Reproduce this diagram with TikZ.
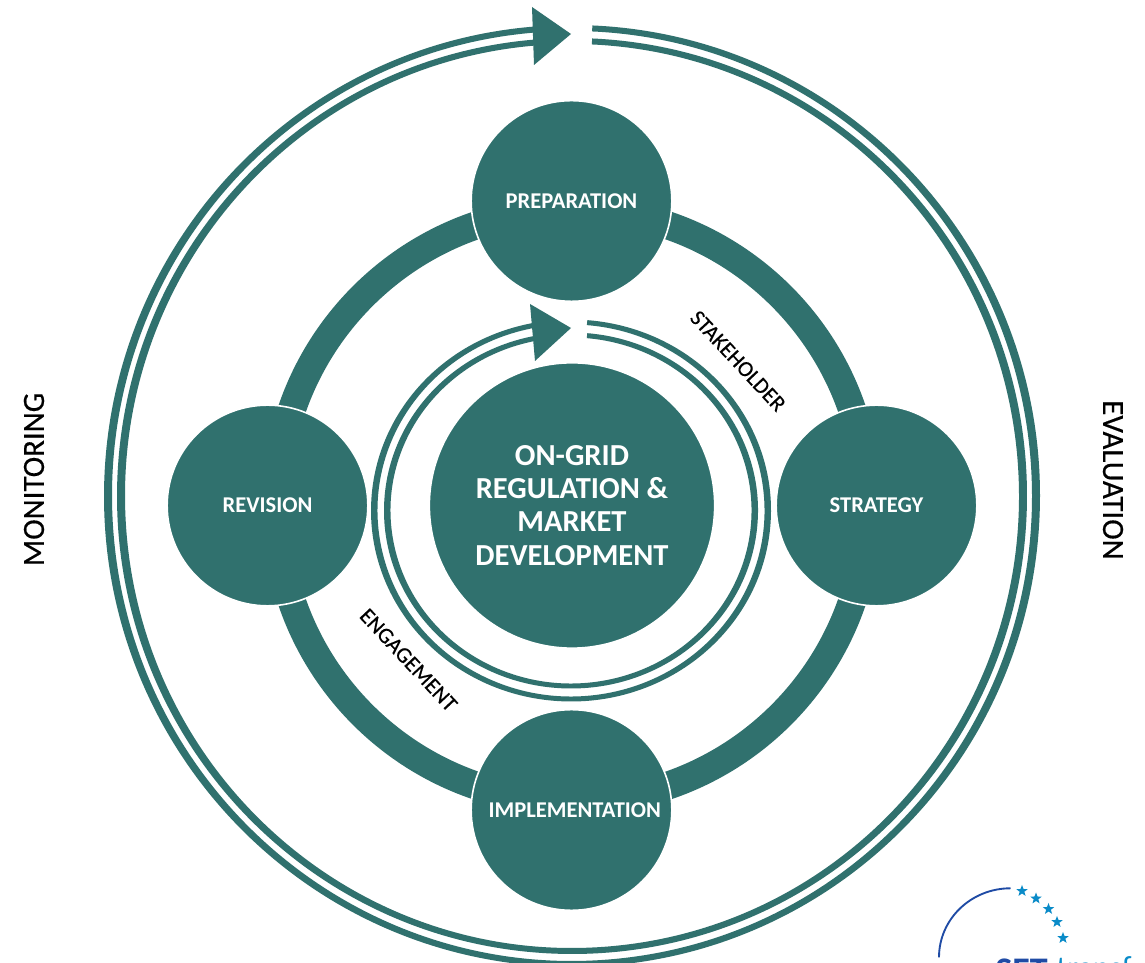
\documentclass[tikz,border=0pt]{standalone}
\usepackage{fontspec}
\setmainfont{Carlito}
\newfontfamily\medfont[FakeBold=0.35]{Carlito}
\usetikzlibrary{calc,shapes.geometric}
\definecolor{teal1}{HTML}{30716E}
\definecolor{logoblue}{HTML}{1F4BA5}
\definecolor{starblue}{HTML}{0A8BC8}
\tikzset{
  x=0.75pt,y=0.75pt,
  disc/.style={circle,fill=teal1,draw=white,line width=1.2pt,inner sep=0pt,text=white,font=\fontsize{16.9pt}{18pt}\selectfont\bfseries,align=center},
  small/.style={disc,minimum size=150.5pt},
  band/.style={draw=teal1,line width=21pt},
  strand/.style={fill=teal1},
  head/.style={fill=teal1},
  sidelabel/.style={font=\fontsize{23.2pt}{26pt}\selectfont\medfont,text=black,inner sep=0pt},
  arclabel/.style={font=\fontsize{16.6pt}{19pt}\selectfont\medfont,text=black,inner sep=0pt},
  logostar/.style={star,star points=5,star point ratio=2.4,fill=starblue,inner sep=0pt,minimum size=9pt},
}
\newcommand{\ringstrand}[8]{% cx cy start end rxOut ryOut rxIn ryIn
  \fill[strand] ($(#1,#2)+(#3:#5 and #6)$) arc[start angle=#3,end angle=#4,x radius=#5,y radius=#6]
    -- ($(#1,#2)+(#4:#7 and #8)$) arc[start angle=#4,end angle=#3,x radius=#7,y radius=#8] -- cycle;}
\begin{document}
\begin{tikzpicture}
\useasboundingbox (0,0) rectangle (1145,963);
\clip (0,0) rectangle (1145,963);
\fill[white] (0,0) rectangle (1145,963);
\coordinate (hubc) at (572,457.5);
% outer double ring (thicker at the sides than at top and bottom)
\ringstrand{572}{467}{87.5}{-265.4}{468}{471}{460}{465}
\ringstrand{572}{467}{87.46}{-265.3}{455}{458}{447}{452}
\fill[head] (532,956) -- (571,929) -- (534,898) -- cycle;
% inner double ring
\ringstrand{571}{452.5}{85.3}{-259.5}{200}{191}{193.5}{186}
\ringstrand{571}{452.5}{85}{-258.7}{187}{178}{180.5}{173}
\fill[head] (530,659) -- (571,635) -- (535,602) -- cycle;
\path (571.5,762) coordinate (prepc) (876.5,457.5) coordinate (stratc) (571.5,153) coordinate (implc) (267.5,457.5) coordinate (revc);
\draw[band] (prepc) -- ($(hubc)+(90:296)$) arc[start angle=90,end angle=0,radius=296] -- (stratc);
\draw[band] (stratc) -- ($(hubc)+(0:296)$) arc[start angle=0,end angle=-90,radius=296] -- (implc);
\draw[band] (implc) -- ($(hubc)+(-90:296)$) arc[start angle=-90,end angle=-180,radius=296] -- (revc);
\draw[band] (revc) -- ($(hubc)+(180:296)$) arc[start angle=180,end angle=90,radius=296] -- (prepc);
\node[small] (prep) at (prepc) {PREPARATION};
\node[small] (strat) at (stratc) {STRATEGY};
\node[small] (impl) at (implc) {\hspace*{5pt}\raisebox{-1.5pt}{IMPLEMENTATION}};
\node[small] (rev) at (revc) {REVISION};
\node[disc,minimum size=214pt,font=\fontsize{22.9pt}{24.8pt}\selectfont\bfseries] (hub) at (hubc) {ON-GRID\\REGULATION \&\\MARKET\\DEVELOPMENT};
\node[sidelabel,rotate=90] (mon) at (34,483.5) {MONITORING};
\node[sidelabel,rotate=-90] (eval) at (1113,483) {EVALUATION};
\node[arclabel,rotate=-47] (stake) at (738,602) {STAKEHOLDER};
\node[arclabel,rotate=-47] (eng) at (408.5,303) {ENGAGEMENT};
% logo, cut by the picture edge
\draw[logoblue,line width=1.4pt] (1010.5,74.7) arc[start angle=90,end angle=180,x radius=71.5,y radius=69];
\foreach \p/\q in {1022/72,1036/64.5,1048.5/54,1057/41,1063/25}{\node[logostar] at (\p,\q) {};}
\node[anchor=base west,inner sep=0pt,font=\fontsize{27pt}{30pt}\selectfont\bfseries,text=logoblue] (logo) at (995,-19) {SET};
\node[anchor=base west,inner sep=0pt,font=\fontsize{24pt}{30pt}\selectfont,text=starblue] (logob) at (1056,-16) {transf};
\end{tikzpicture}
\end{document}
